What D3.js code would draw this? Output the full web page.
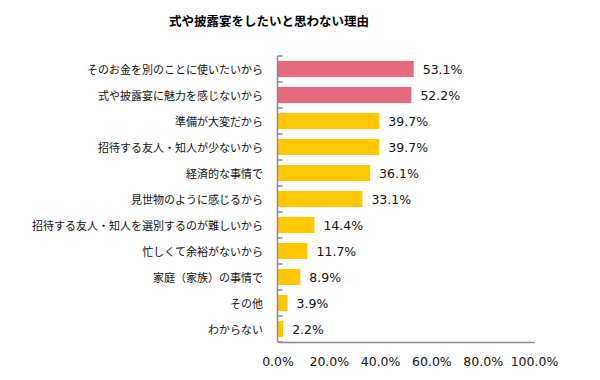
<!DOCTYPE html>
<html><head><meta charset="utf-8">
<script src="https://cdn.jsdelivr.net/npm/d3@7"></script>
<style>body{margin:0;background:#fff}</style>
</head><body>
<script>
const title = "式や披露宴をしたいと思わない理由";
const categories = ["そのお金を別のことに使いたいから","式や披露宴に魅力を感じないから","準備が大変だから","招待する友人・知人が少ないから","経済的な事情で","見世物のように感じるから","招待する友人・知人を選別するのが難しいから","忙しくて余裕がないから","家庭（家族）の事情で","その他","わからない"];
const values = [53.1,52.2,39.7,39.7,36.1,33.1,14.4,11.7,8.9,3.9,2.2];
const highlighted = [true,true,false,false,false,false,false,false,false,false,false];
const xTicks = [0,20,40,60,80,100];

const W=600,H=380;
const svg=d3.select("body").append("svg").attr("width",W).attr("height",H);
const x=d3.scaleLinear().domain([0,100]).range([277.5,534]);
const y=d3.scaleBand().domain(categories).range([56,342]).paddingInner(0.38).paddingOuter(0.19);
const yb=d3.scaleBand().domain(categories).range([56,342]);

svg.append("text").attr("x",269).attr("y",26).attr("text-anchor","middle")
  .attr("font-family","'Noto Sans CJK JP'").attr("font-weight","bold").attr("font-size",12.5)
  .attr("fill","#000").text(title);

svg.selectAll("rect.bar").data(values).join("rect").attr("class","bar")
  .attr("x",x(0)).attr("y",(d,i)=>y(categories[i]))
  .attr("width",d=>x(d)-x(0)).attr("height",y.bandwidth())
  .attr("fill",(d,i)=>highlighted[i]?"#E66A7C":"#FFC800");

svg.selectAll("text.val").data(values).join("text").attr("class","val")
  .attr("x",d=>x(d)+9).attr("y",(d,i)=>y(categories[i])+y.bandwidth()/2)
  .attr("dy","0.36em").attr("font-family","'DejaVu Sans'").attr("font-size",12.5)
  .attr("fill","#111").text(d=>d.toFixed(1)+"%");

svg.selectAll("text.cat").data(categories).join("text").attr("class","cat")
  .attr("x",263).attr("y",d=>yb(d)+yb.bandwidth()/2+1)
  .attr("dy","0.36em").attr("text-anchor","end")
  .attr("font-family","'Noto Sans CJK JP'").attr("font-size",11)
  .attr("fill","#111").text(d=>d);

// left axis with ticks at category boundaries
const bounds=categories.map(c=>yb(c)).concat([342]);
svg.append("line").attr("x1",x(0)).attr("x2",x(0)).attr("y1",56).attr("y2",342).attr("stroke","#888").attr("stroke-width",1.5);
svg.selectAll("line.tk").data(bounds).join("line").attr("class","tk")
  .attr("x1",x(0)).attr("x2",x(0)+5).attr("y1",d=>d).attr("y2",d=>d).attr("stroke","#888").attr("stroke-width",1.5);
// bottom axis
const xa=svg.append("g").attr("transform","translate(0,342)")
  .call(d3.axisBottom(x).tickValues(xTicks).tickSize(0).tickPadding(15).tickFormat(d=>d.toFixed(1)+"%"));
xa.select(".domain").attr("stroke","#888").attr("stroke-width",1.5);
xa.selectAll("text").attr("font-family","'DejaVu Sans'").attr("font-size",12.5).attr("fill","#111");
</script>
</body></html>
